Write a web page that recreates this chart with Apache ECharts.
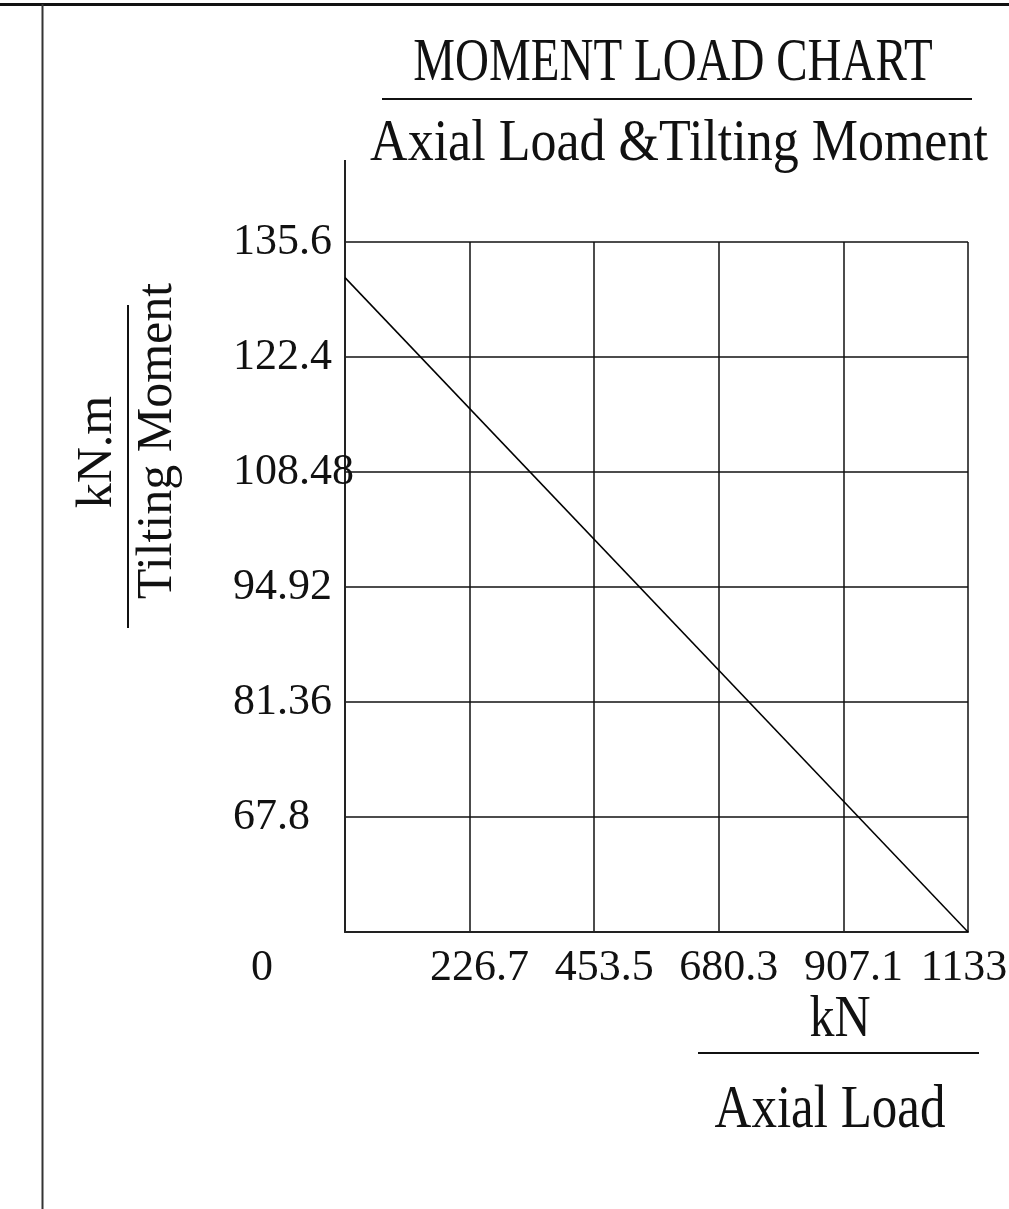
<!DOCTYPE html>
<html>
<head>
<meta charset="utf-8">
<script src="https://cdn.jsdelivr.net/npm/echarts@6/dist/echarts.min.js"></script>
<style>
  html, body { margin: 0; padding: 0; background: #fff; }
  #c { width: 1009px; height: 1209px; }
</style>
</head>
<body>
<div id="c"></div>
<script>
// tick labels as printed on the chart
var xTickLabels = ['0', '226.7', '453.5', '680.3', '907.1', '1133'];
var yTickLabels = ['0', '67.8', '81.36', '94.92', '108.48', '122.4', '135.6'];

// axis scales (the bottom of the moment axis is labelled 0)
var xStep = 226.7;
var xMax = 1133.5;
var yStep = 13.56;
var yMin = 54.24;
var yMax = 135.6;

// the load line: axial load vs tilting moment
var axialLoad = [0, 1133.5];
var tiltingMoment = [131.4, 54.24];

var lineData = axialLoad.map(function (x, i) { return [x, tiltingMoment[i]]; });

var font = 'Liberation Serif';
var ink = '#111';

var myChart = echarts.init(document.getElementById('c'));
var option = {
    backgroundColor: '#fff',
    animation: false,
    grid: {
        left: 345, right: 41, top: 242, bottom: 277,
        outerBoundsMode: 'none'
    },
    xAxis: {
        type: 'value',
        min: 0,
        max: xMax,
        interval: xStep,
        axisLine: { lineStyle: { color: '#222', width: 2 } },
        axisTick: { show: false },
        splitLine: { show: true, lineStyle: { color: ink, width: 1.5 } },
        axisLabel: {
            margin: 14,
            showMaxLabel: true,
            formatter: function (v) {
                var i = Math.round(v / xStep);
                if (i === 0) return '{z|' + xTickLabels[i] + '}';
                if (i === xTickLabels.length - 1) return '{e|' + xTickLabels[i] + '}';
                return '{r|' + xTickLabels[i] + '}';
            },
            rich: {
                r: { fontFamily: font, fontSize: 44, color: ink, padding: [0, 0, 0, 20] },
                e: { fontFamily: font, fontSize: 44, color: ink, padding: [0, 8, 0, 0] },
                z: { fontFamily: font, fontSize: 44, color: ink, padding: [0, 166, 0, 0] }
            }
        }
    },
    yAxis: {
        type: 'value',
        min: yMin,
        max: yMax,
        interval: yStep,
        axisLine: { show: true, lineStyle: { color: '#222', width: 2 } },
        axisTick: { show: false },
        splitLine: { show: true, lineStyle: { color: ink, width: 1.5 } },
        axisLabel: {
            margin: 112,
            align: 'left',
            fontFamily: font,
            fontSize: 44,
            color: ink,
            formatter: function (v) {
                var i = Math.round((v - yMin) / yStep);
                return i === 0 ? '' : yTickLabels[i];
            }
        }
    },
    series: [{
        type: 'line',
        data: lineData,
        symbol: 'none',
        silent: true,
        lineStyle: { color: '#000', width: 1.5 }
    }],
    graphic: [
        // page frame
        { type: 'line', shape: { x1: 0, y1: 4.5, x2: 1009, y2: 4.5 }, style: { stroke: '#111', lineWidth: 3 } },
        { type: 'line', shape: { x1: 42.5, y1: 4, x2: 42.5, y2: 1209 }, style: { stroke: '#333', lineWidth: 2 } },
        // y axis runs up past the grid
        { type: 'line', shape: { x1: 345, y1: 160, x2: 345, y2: 242 }, style: { stroke: '#222', lineWidth: 2 } },
        // titles
        { type: 'text', x: 673, y: 64, scaleY: 1.3,
          style: { text: 'MOMENT LOAD CHART', fontFamily: font, fontSize: 47, fill: ink, align: 'center', verticalAlign: 'middle' } },
        { type: 'line', shape: { x1: 382, y1: 99, x2: 972, y2: 99 }, style: { stroke: ink, lineWidth: 2 } },
        { type: 'text', x: 679, y: 144, scaleY: 1.15,
          style: { text: 'Axial Load &Tilting Moment', fontFamily: font, fontSize: 52, fill: ink, align: 'center', verticalAlign: 'middle' } },
        // y axis name
        { type: 'text', x: 98, y: 452, rotation: Math.PI / 2,
          style: { text: 'kN.m', fontFamily: font, fontSize: 50, fill: ink, align: 'center', verticalAlign: 'middle' } },
        { type: 'line', shape: { x1: 128, y1: 305, x2: 128, y2: 628 }, style: { stroke: ink, lineWidth: 2 } },
        { type: 'text', x: 158, y: 441, rotation: Math.PI / 2,
          style: { text: 'Tilting Moment', fontFamily: font, fontSize: 50, fill: ink, align: 'center', verticalAlign: 'middle' } },
        // x axis name
        { type: 'text', x: 840, y: 1020, scaleY: 1.2,
          style: { text: 'kN', fontFamily: font, fontSize: 50, fill: ink, align: 'center', verticalAlign: 'middle' } },
        { type: 'line', shape: { x1: 698, y1: 1053, x2: 979, y2: 1053 }, style: { stroke: ink, lineWidth: 2 } },
        { type: 'text', x: 830, y: 1111, scaleY: 1.2,
          style: { text: 'Axial Load', fontFamily: font, fontSize: 51, fill: ink, align: 'center', verticalAlign: 'middle' } }
    ]
};
myChart.setOption(option);
</script>
</body>
</html>
